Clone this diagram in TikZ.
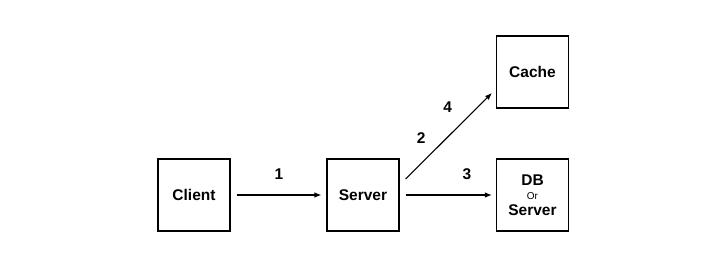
\documentclass[tikz,border=0pt]{standalone}
\usepackage{fontspec}
\setmainfont{Liberation Sans}
\usetikzlibrary{arrows.meta}
\begin{document}
\begin{tikzpicture}[x=1pt,y=-1pt,
    box/.style={draw, line width=1.2pt, minimum size=72pt, inner sep=0pt, align=center,
      font=\fontsize{15.5}{17}\selectfont\bfseries},
    arr/.style={-{Latex[length=7pt,width=5.5pt]}, line width=1.1pt},
    num/.style={font=\fontsize{15.5}{17}\selectfont\bfseries}]
  \useasboundingbox (0,0) rectangle (719,255);
  % boxes
  \node[box] (client) at (194,195) {Client};
  \node[box] (server) at (363,195) {Server};
  \node[box] (cache) at (532.5,72) {Cache};
  \node[box] (db) at (532.5,195) {DB\\[-3pt]{\fontsize{10}{11}\selectfont\mdseries Or}\\[-1pt]Server};
  % arrows
  \draw[arr] ([xshift=6pt]client.east) -- ([xshift=-5pt]server.west)
    node[num, midway, yshift=21pt] {1};
  \draw[arr] ([xshift=6pt]server.east) -- ([xshift=-4pt]db.west)
    node[num, pos=0.71, yshift=21pt] {3};
  \draw[arr] ([xshift=6pt,yshift=16pt]server.east) -- ([xshift=-4pt,yshift=-21pt]cache.west)
    node[num, pos=0.66, xshift=-15pt, yshift=15pt] {4}
    node[num, pos=0.33, xshift=-13pt, yshift=13pt] {2};
\end{tikzpicture}
\end{document}
